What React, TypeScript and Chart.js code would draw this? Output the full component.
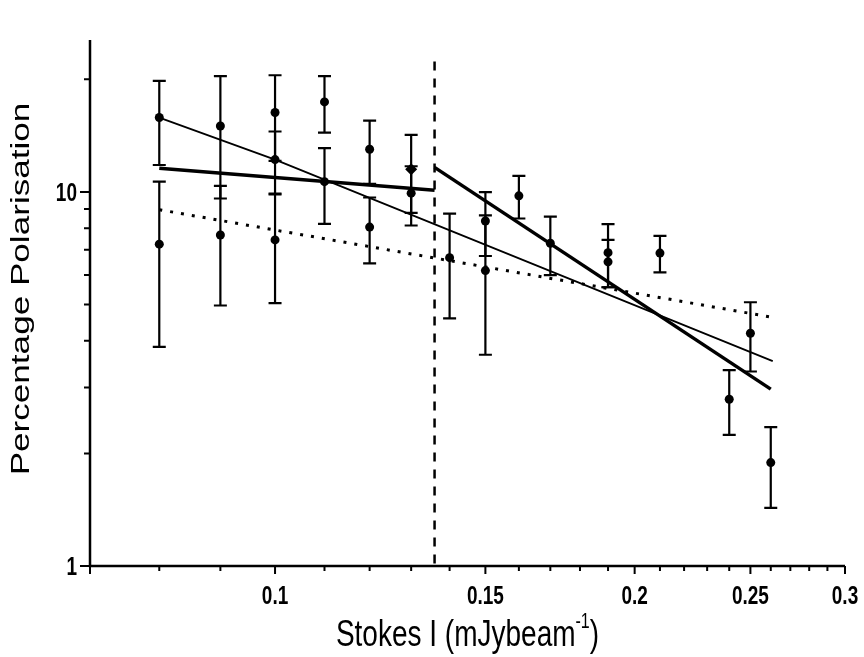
import React, { useEffect, useRef } from 'react';
import { Chart, registerables } from 'chart.js';

Chart.register(...registerables);

// Measured points: Stokes I (mJy/beam), percentage polarisation, 1-sigma error
const stokesI = [0.08, 0.08, 0.09, 0.09, 0.1, 0.1, 0.1, 0.11, 0.11, 0.12, 0.12, 0.13, 0.14, 0.15, 0.15, 0.16, 0.17, 0.19, 0.19, 0.21, 0.24, 0.25, 0.26];
const polarisation = [15.8, 7.25, 15.0, 7.67, 16.3, 12.2, 7.44, 17.4, 10.65, 13.0, 8.05, 9.92, 6.67, 8.36, 6.16, 9.76, 7.29, 6.88, 6.5, 6.86, 2.79, 4.19, 1.89];
const polarisationErr = [4.0, 3.4, 5.4, 2.7, 4.2, 2.3, 2.4, 3.0, 2.44, 2.5, 1.61, 1.79, 2.08, 1.62, 2.49, 1.27, 1.3, 1.32, 0.94, 0.77, 0.55, 0.88, 0.46];

// The single diamond-shaped point
const diamondI = [0.13];
const diamondPol = [11.5];
const diamondErr = [2.71];

// Fitted lines
const overallFitI = [0.08, 0.1, 0.261];
const overallFitPol = [15.8, 12.2, 3.53];
const faintFitI = [0.08, 0.136];
const faintFitPol = [11.57, 10.1];
const brightFitI = [0.136, 0.26];
const brightFitPol = [11.63, 2.97];
const dottedFitI = [0.08, 0.262];
const dottedFitPol = [8.96, 4.61];

// Vertical dashed division
const cutI = [0.136, 0.136];
const cutPol = [22.3, 1];

// Axis ticks
const xTickValues = [0.07, 0.08, 0.09, 0.1, 0.11, 0.12, 0.13, 0.14, 0.15, 0.16, 0.17, 0.18, 0.19, 0.2, 0.21, 0.22, 0.23, 0.24, 0.25, 0.26, 0.27, 0.28, 0.29, 0.3];
const xTickLabels = ['0.1', '0.15', '0.2', '0.25', '0.3'];
const yTickValues = [1, 2, 3, 4, 5, 6, 7, 8, 9, 10, 20];
const yTickLabels = ['1', '10'];

const xTitle = 'Stokes I (mJybeam';
const xTitleSup = '-1';
const xTitleEnd = ')';
const yTitle = 'Percentage Polarisation';

const xMin = 0.07;
const xMax = 0.3;
const yMin = 1;
const yMax = 25;

const FONT = "'Liberation Sans', Arial, Helvetica, sans-serif";
const STRETCH = 1.35;

const fmt = (v: number) => String(Math.round(v * 1000) / 1000);

const errorBarPlugin = {
  id: 'errorBars',
  beforeDatasetsDraw(chart: any) {
    const { ctx, scales } = chart;
    const xs = scales.x;
    const ys = scales.y;
    ctx.save();
    ctx.strokeStyle = '#000';
    ctx.lineWidth = 2.2;
    chart.data.datasets.forEach((ds: any) => {
      if (!ds.errorBars) return;
      ds.data.forEach((p: any, i: number) => {
        const e = ds.errorBars[i];
        const px = xs.getPixelForValue(p.x);
        const top = ys.getPixelForValue(p.y + e);
        const bot = ys.getPixelForValue(Math.max(p.y - e, 0.0001));
        const cap = 6.5;
        ctx.beginPath();
        ctx.moveTo(px, top);
        ctx.lineTo(px, bot);
        ctx.moveTo(px - cap, top);
        ctx.lineTo(px + cap, top);
        ctx.moveTo(px - cap, bot);
        ctx.lineTo(px + cap, bot);
        ctx.stroke();
      });
    });
    ctx.restore();
  },
};

const axesPlugin = {
  id: 'axesFrame',
  afterDraw(chart: any) {
    const { ctx, chartArea, scales } = chart;
    const xs = scales.x;
    const ys = scales.y;
    ctx.save();
    ctx.strokeStyle = '#000';
    ctx.fillStyle = '#000';
    ctx.lineCap = 'butt';
    ctx.lineWidth = 2.5;
    ctx.beginPath();
    ctx.moveTo(chartArea.left, chartArea.top - 3);
    ctx.lineTo(chartArea.left, chartArea.bottom);
    ctx.lineTo(chartArea.right, chartArea.bottom);
    ctx.stroke();

    // tick marks
    ctx.lineWidth = 2;
    ctx.beginPath();
    xs.ticks.forEach((t: any) => {
      const px = xs.getPixelForValue(t.value);
      const major = xTickLabels.includes(fmt(t.value)) || Math.abs(t.value - xMin) < 1e-9;
      ctx.moveTo(px, chartArea.bottom);
      ctx.lineTo(px, chartArea.bottom + (major ? 8 : 5));
    });
    ys.ticks.forEach((t: any) => {
      const py = ys.getPixelForValue(t.value);
      const major = yTickLabels.includes(fmt(t.value));
      ctx.moveTo(chartArea.left, py);
      ctx.lineTo(chartArea.left - (major ? 10 : 6), py);
    });
    ctx.stroke();

    // tick labels (vertically stretched like the source figure)
    ctx.font = `bold 19px ${FONT}`;
    ctx.textBaseline = 'alphabetic';
    ctx.textAlign = 'center';
    xs.ticks.forEach((t: any) => {
      const s = fmt(t.value);
      if (!xTickLabels.includes(s)) return;
      const px = xs.getPixelForValue(t.value);
      ctx.save();
      ctx.translate(px, chartArea.bottom + 38);
      ctx.scale(1, STRETCH);
      ctx.fillText(s, 0, 0);
      ctx.restore();
    });
    ctx.textAlign = 'right';
    ys.ticks.forEach((t: any) => {
      const s = fmt(t.value);
      if (!yTickLabels.includes(s)) return;
      const py = ys.getPixelForValue(t.value);
      ctx.save();
      ctx.translate(chartArea.left - 13, py + 9);
      ctx.scale(1, STRETCH);
      ctx.fillText(s, 0, 0);
      ctx.restore();
    });

    // x title
    const bigFont = `28px ${FONT}`;
    const supFont = `16px ${FONT}`;
    ctx.font = bigFont;
    const w1 = ctx.measureText(xTitle).width;
    const w3 = ctx.measureText(xTitleEnd).width;
    ctx.font = supFont;
    const w2 = ctx.measureText(xTitleSup).width;
    const total = w1 + w2 + w3;
    const cx = (chartArea.left + chartArea.right) / 2;
    let x0 = cx - total / 2;
    const base = 646;
    ctx.textAlign = 'left';
    ctx.save();
    ctx.translate(x0, base);
    ctx.scale(1, STRETCH);
    ctx.font = bigFont;
    ctx.fillText(xTitle, 0, 0);
    ctx.font = supFont;
    ctx.fillText(xTitleSup, w1, -13);
    ctx.font = bigFont;
    ctx.fillText(xTitleEnd, w1 + w2, 0);
    ctx.restore();

    // y title
    ctx.save();
    ctx.translate(29, 289);
    ctx.rotate(-Math.PI / 2);
    ctx.scale(STRETCH, 1);
    ctx.font = `26px ${FONT}`;
    ctx.textAlign = 'center';
    ctx.fillText(yTitle, 0, 0);
    ctx.restore();

    ctx.restore();
  },
};

export default function App() {
  const canvasRef = useRef<HTMLCanvasElement | null>(null);

  useEffect(() => {
    document.body.style.margin = '0';
    const canvas = canvasRef.current;
    if (!canvas) return;

    const pts = (xs: number[], ys: number[]) => xs.map((x, i) => ({ x, y: ys[i] }));
    const lineDs = (xs: number[], ys: number[], width: number, dash: number[] = []) => ({
      type: 'line',
      data: pts(xs, ys),
      showLine: true,
      borderColor: '#000',
      backgroundColor: '#000',
      borderWidth: width,
      borderDash: dash,
      pointRadius: 0,
      pointHoverRadius: 0,
      fill: false,
      tension: 0,
    });

    const chart = new Chart(canvas, {
      type: 'scatter',
      data: {
        datasets: [
          {
            data: pts(stokesI, polarisation),
            errorBars: polarisationErr,
            pointStyle: 'circle',
            pointRadius: 4.5,
            backgroundColor: '#000',
            borderColor: '#000',
            borderWidth: 0,
          } as any,
          {
            data: pts(diamondI, diamondPol),
            errorBars: diamondErr,
            pointStyle: 'rectRot',
            pointRadius: 6,
            backgroundColor: '#000',
            borderColor: '#000',
            borderWidth: 0,
          } as any,
          lineDs(overallFitI, overallFitPol, 1.8) as any,
          lineDs(faintFitI, faintFitPol, 3.5) as any,
          lineDs(brightFitI, brightFitPol, 3.5) as any,
          { ...lineDs(dottedFitI, dottedFitPol, 3, [3, 8]), borderCapStyle: 'butt' } as any,
          lineDs(cutI, cutPol, 2.5, [9, 8]) as any,
        ],
      },
      options: {
        responsive: false,
        animation: false,
        events: [],
        layout: { padding: { top: 43, right: 19, left: 0, bottom: 0 } },
        plugins: {
          legend: { display: false },
          tooltip: { enabled: false },
        },
        scales: {
          x: {
            type: 'logarithmic',
            min: xMin,
            max: xMax,
            afterBuildTicks: (scale: any) => {
              scale.ticks = xTickValues.map((v) => ({ value: v }));
            },
            afterFit: (scale: any) => {
              scale.height = 91;
            },
            grid: { display: false, drawTicks: false },
            border: { display: false },
            ticks: { display: false, autoSkip: false },
            title: { display: false },
          },
          y: {
            type: 'logarithmic',
            min: yMin,
            max: yMax,
            afterBuildTicks: (scale: any) => {
              scale.ticks = yTickValues.map((v) => ({ value: v }));
            },
            afterFit: (scale: any) => {
              scale.width = 90;
            },
            grid: { display: false, drawTicks: false },
            border: { display: false },
            ticks: { display: false, autoSkip: false },
            title: { display: false },
          },
        },
      } as any,
      plugins: [errorBarPlugin, axesPlugin],
    });

    return () => chart.destroy();
  }, []);

  return (
    <div style={{ width: 864, height: 657, background: '#fff' }}>
      <canvas ref={canvasRef} width={864} height={657} />
    </div>
  );
}
